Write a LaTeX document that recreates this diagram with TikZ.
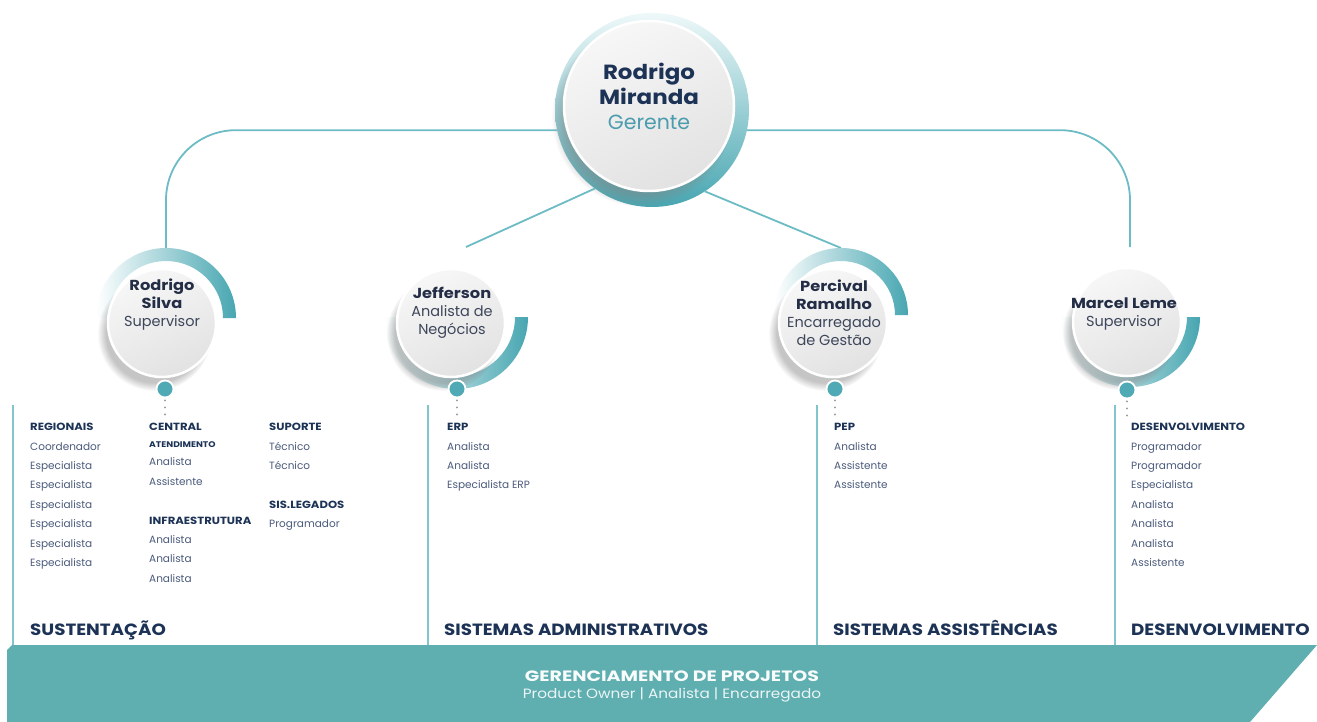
\documentclass[tikz,border=0pt]{standalone}
\usepackage{fontspec}
\usepackage{graphicx}
\setmainfont{Poppins}[BoldFeatures={FakeStretch=1.12}]
\usetikzlibrary{shadows,fadings,calc}

\definecolor{navy}{HTML}{1D3356}
\definecolor{namec}{HTML}{232D45}
\definecolor{rolec}{HTML}{3D465A}
\definecolor{itemc}{HTML}{4B5B7C}
\definecolor{tealtxt}{HTML}{4B9CAD}
\definecolor{bandc}{HTML}{5FAEB0}
\definecolor{linkc}{HTML}{6DBCC5}
\definecolor{colc}{HTML}{80C6CC}
\definecolor{ringdark}{HTML}{47A6B1}
\definecolor{ringmid}{HTML}{9CD3D8}
\definecolor{ringlight}{HTML}{EEF8F9}
\definecolor{dotc}{HTML}{4FAAB5}
\definecolor{facetop}{HTML}{F7F7F7}
\definecolor{facebot}{HTML}{E2E2E2}

\begin{document}
\begin{tikzpicture}[x=1pt,y=-1pt,
  link/.style={draw=linkc, line width=1.8pt},
  colline/.style={draw=colc, line width=2pt},
  ringnode/.style={circle, draw=none, inner sep=0pt, outer sep=0pt, minimum size=#1},
  face/.style={circle, draw=white, line width=2.5pt, inner sep=0pt, minimum size=#1,
    top color=facetop, bottom color=facebot, shading angle=25,
    circular drop shadow={shadow scale=1.06, shadow xshift=-7pt, shadow yshift=-10pt, opacity=0.45}},
  arcband/.style={left color=white, right color=ringdark, draw=none},
  smalldot/.style={circle, fill=dotc, draw=white, line width=1.8pt, inner sep=0pt, minimum size=17pt},
  dotline/.style={draw=gray!85, line width=2.2pt, dash pattern=on 0.01pt off 7pt, line cap=round},
  nametext/.style={align=center, inner sep=0pt, font=\fontsize{14.5}{18}\selectfont, text=rolec},
  item/.style={anchor=base west, inner sep=0pt, font=\fontsize{10.5}{13}\selectfont, text=itemc},
  head/.style={anchor=base west, inner sep=0pt, font=\bfseries\fontsize{10.4}{13}\selectfont, text=navy},
  subhead/.style={anchor=base west, inner sep=0pt, font=\bfseries\fontsize{8.2}{9}\selectfont, text=navy},
  sect/.style={anchor=base west, inner sep=0pt, font=\bfseries\fontsize{16.3}{19}\selectfont, text=navy}]

\useasboundingbox (0,0) rectangle (1317,722);
\fill[white] (0,0) rectangle (1317,722);

% ---------- manager ----------
\node[ringnode=194pt, top color=ringlight, middle color=ringmid, bottom color=ringdark] (gm) at (652,110) {};
\node[face=170pt] (gmf) at (649,106) {};
\node[align=center, inner sep=0pt, font=\fontsize{20.5}{25}\selectfont] (gmt) at (649,96)
  {\textcolor{navy}{\bfseries Rodrigo}\\\textcolor{navy}{\bfseries Miranda}\\\textcolor{tealtxt}{Gerente}};

% ---------- ring geometry of the four leads ----------
\node[ringnode=140pt] (rs) at (166,318) {};
\node[ringnode=144pt] (jf) at (456,317) {};
\node[ringnode=134pt] (pr) at (841,315) {};
\node[ringnode=140pt] (ml) at (1130,317) {};
\coordinate (jfTop) at (466,247);
\coordinate (mlTop) at (1130,247);

% connectors from the manager
\draw[link, rounded corners=70pt] (gm.192) -| (rs.north);
\draw[link, rounded corners=70pt] (gm.-12) -| (mlTop);
\draw[link] (gm.234) -- (jfTop);
\draw[link] (gm.-57) -- (pr.north);

% half rings
\path[arcband] (rs.east) arc[start angle=0, end angle=180, radius=70pt] -- ++(13,0)
  arc[start angle=180, end angle=0, radius=57pt] -- cycle;
\path[arcband] (pr.east) arc[start angle=0, end angle=180, radius=67pt] -- ++(13,0)
  arc[start angle=180, end angle=0, radius=54pt] -- cycle;
\path[arcband] (jf.west) arc[start angle=180, end angle=360, radius=72pt] -- ++(-13,0)
  arc[start angle=0, end angle=-180, radius=59pt] -- cycle;
\path[arcband] (ml.west) arc[start angle=180, end angle=360, radius=70pt] -- ++(-13,0)
  arc[start angle=0, end angle=-180, radius=57pt] -- cycle;

% faces
\node[face=108pt] (rsf) at (162,323) {};
\node[face=108pt] (jff) at (451,323) {};
\node[face=108pt] (prf) at (833,323) {};
\node[face=108pt] (mlf) at (1127,322) {};

\node[nametext] (rst) at (162,305) {\textcolor{namec}{\bfseries Rodrigo}\\\textcolor{namec}{\bfseries Silva}\\Supervisor};
\node[nametext] (jft) at (452,313) {\textcolor{namec}{\bfseries Jefferson}\\Analista de\\Negócios};
\node[nametext] (prt) at (834,313) {\textcolor{namec}{\bfseries Percival}\\\textcolor{namec}{\bfseries Ramalho}\\Encarregado\\de Gestão};
\node[nametext] (mlt) at (1124,314) {\textcolor{namec}{\bfseries Marcel Leme}\\Supervisor};

% small dots with dotted tails
\node[smalldot] (rsd) at (165,389) {};
\node[smalldot] (jfd) at (457,389) {};
\node[smalldot] (prd) at (835,389) {};
\node[smalldot] (mld) at (1127,390) {};
\foreach \d in {rsd,jfd,prd,mld}
  \draw[dotline] ($(\d.south)+(0,2)$) -- ++(0,16);

% column rules
\foreach \cx in {13,428,817,1115}
  \draw[colline] (\cx,405) -- (\cx,645);

% ---------- SUSTENTAÇÃO ----------
\node[head] (hReg) at (30,430) {REGIONAIS};
\foreach \t [count=\i from 0] in {Coordenador,Especialista,Especialista,Especialista,Especialista,Especialista,Especialista}
  \node[item] (reg\i) at (30,{450+19.4*\i}) {\t};

\node[head] (hCen) at (149,430) {CENTRAL};
\node[subhead] (hAte) at (149,447) {ATENDIMENTO};
\node[item] (cen0) at (149,465) {Analista};
\node[item] (cen1) at (149,485) {Assistente};
\node[head] (hInf) at (149,524) {INFRAESTRUTURA};
\foreach \i in {0,1,2}
  \node[item] (inf\i) at (149,{543+19.5*\i}) {Analista};

\node[head] (hSup) at (269,430) {SUPORTE};
\node[item] (sup0) at (269,450) {Técnico};
\node[item] (sup1) at (269,469) {Técnico};
\node[head] (hLeg) at (269,508) {SIS.LEGADOS};
\node[item] (leg0) at (269,527) {Programador};

% ---------- SISTEMAS ADMINISTRATIVOS ----------
\node[head] (hErp) at (447,430) {ERP};
\foreach \t [count=\i from 0] in {Analista,Analista,Especialista ERP}
  \node[item] (erp\i) at (447,{450+19.4*\i}) {\t};

% ---------- SISTEMAS ASSISTÊNCIAS ----------
\node[head] (hPep) at (834,430) {PEP};
\foreach \t [count=\i from 0] in {Analista,Assistente,Assistente}
  \node[item] (pep\i) at (834,{450+19.4*\i}) {\t};

% ---------- DESENVOLVIMENTO ----------
\node[head] (hDes) at (1131,430) {DESENVOLVIMENTO};
\foreach \t [count=\i from 0] in {Programador,Programador,Especialista,Analista,Analista,Analista,Assistente}
  \node[item] (des\i) at (1131,{450+19.4*\i}) {\t};

% section titles
\node[sect] (sSus) at (30,635) {SUSTENTAÇÃO};
\node[sect] (sAdm) at (444,635) {SISTEMAS ADMINISTRATIVOS};
\node[sect] (sAss) at (833,635) {SISTEMAS ASSISTÊNCIAS};
\node[sect] (sDes) at (1131,635) {DESENVOLVIMENTO};

% ---------- project management band ----------
\fill[bandc] (7,650) -- (12,645) -- (1317,645) -- (1250,722) -- (7,722) -- cycle;
\node[inner sep=0pt, font=\bfseries\fontsize{15}{18}\selectfont, text=white!96!bandc] (bandT) at (672,676) {\scalebox{1.13}[1]{GERENCIAMENTO DE PROJETOS}};
\node[inner sep=0pt, font=\fontsize{13.5}{16}\selectfont, text=white!88!bandc] (bandS) at (672,695) {\scalebox{1.13}[1]{Product Owner | Analista | Encarregado}};

\end{tikzpicture}
\end{document}
